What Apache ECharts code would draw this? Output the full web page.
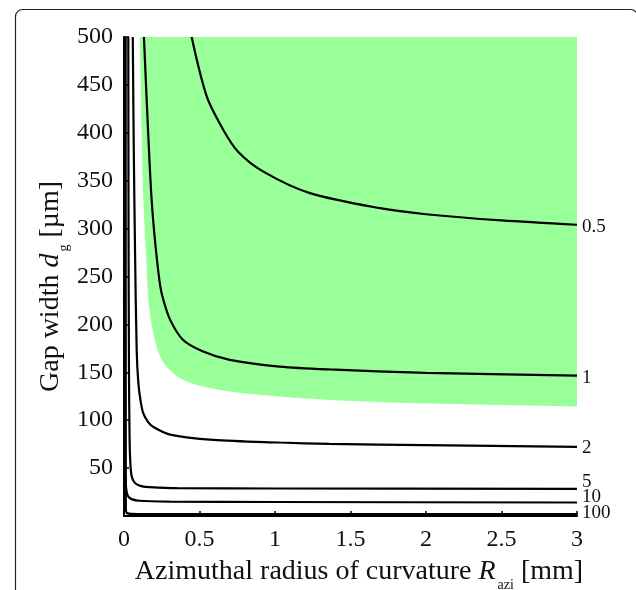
<!DOCTYPE html>
<html>
<head>
<meta charset="utf-8">
<script src="https://cdn.jsdelivr.net/npm/echarts@6/dist/echarts.min.js"></script>
<style>
html,body{margin:0;padding:0;background:#fff;}
#c{width:636px;height:590px;}
</style>
</head>
<body>
<div id="c"></div>
<script>
// x ticks / y ticks
const xTicks = [0, 0.5, 1, 1.5, 2, 2.5, 3];
const yTicks = [50, 100, 150, 200, 250, 300, 350, 400, 450, 500];

// Lower boundary of the green region [R_azi mm, d_g um]
const regionR = [0.105, 0.117, 0.128, 0.15, 0.161, 0.194, 0.25, 0.35, 0.48, 0.7, 1.03, 1.36, 2, 3];
const regionD = [500, 400, 330, 260, 226, 191, 163, 146, 137, 130, 124.7, 121.2, 117.5, 114.3];

// Contour curves
const curve05R = [0.448, 0.548, 0.658, 0.757, 0.923, 1.232, 1.695, 2, 2.5, 3];
const curve05D = [500, 438, 403, 380, 359.5, 337, 321.3, 315, 308.5, 304];

const curve1R = [0.132, 0.16, 0.183, 0.21, 0.24, 0.26, 0.305, 0.39, 0.52, 0.7, 1.03, 1.36, 2, 3];
const curve1D = [500, 400, 330, 280, 240, 226, 205, 184, 172, 163, 156, 153, 149.5, 146.6];

const curve2R = [0.058, 0.065, 0.073, 0.084, 0.095, 0.11, 0.128, 0.16, 0.194, 0.305, 0.59, 1.03, 1.36, 2, 3];
const curve2D = [500, 380, 278, 173, 139, 120, 107, 98, 93, 85, 79.5, 76.7, 75.3, 74, 72.2];

const curve5R = [0.0285, 0.03, 0.033, 0.037, 0.042, 0.05, 0.065, 0.085, 0.12, 0.17, 0.35, 1, 3];
const curve5D = [500, 300, 150, 80, 55, 42, 36, 33, 31, 30.2, 29.1, 28.7, 28.4];

const curve10R = [0.011, 0.012, 0.016, 0.022, 0.03, 0.05, 0.1, 0.3, 1, 3];
const curve10D = [40.5, 33, 27, 22.5, 20, 17.6, 15.9, 15.1, 14.6, 14.1];

const curve100R = [0.011, 0.012, 0.02, 0.1, 3];
const curve100D = [500, 10, 3, 2, 2];

const curveNames = ['0.5', '1', '2', '5', '10', '100'];
const curveR = [curve05R, curve1R, curve2R, curve5R, curve10R, curve100R];
const curveD = [curve05D, curve1D, curve2D, curve5D, curve10D, curve100D];
const labelShift = [2, 2, 1, -7, -5, -1];

const FONT = '"Liberation Serif", "DejaVu Serif", serif';

function zip(a, b) { return a.map((v, i) => [v, b[i]]); }

const series = [{
  type: 'line',
  name: 'region',
  data: zip(regionR, regionD),
  symbol: 'none',
  smooth: 0.3,
  lineStyle: { width: 0, color: '#99ff99' },
  areaStyle: { color: '#99ff99', opacity: 1, origin: 'end' },
  z: 1,
  silent: true
}];
curveNames.forEach((n, i) => {
  series.push({
    type: 'line',
    name: n,
    data: zip(curveR[i], curveD[i]),
    symbol: 'none',
    smooth: 0.3,
    lineStyle: { color: '#000', width: 2.2 },
    itemStyle: { color: '#000' },
    z: 3,
    endLabel: {
      show: true,
      formatter: '{a}',
      distance: 5,
      offset: [0, labelShift[i]],
      color: '#111',
      fontFamily: FONT,
      fontSize: 19
    }
  });
});

const titleRich = {
  m: { fontFamily: FONT, fontSize: 28, color: '#111', lineHeight: 28, verticalAlign: 'top' },
  i: { fontFamily: FONT, fontSize: 28, color: '#111', fontStyle: 'italic', lineHeight: 28, verticalAlign: 'top', padding: [0, 2, 0, 0] },
  s: { fontFamily: FONT, fontSize: 14, color: '#111', lineHeight: 34, verticalAlign: 'bottom' }
};

const chart = echarts.init(document.getElementById('c'), null, { renderer: 'canvas' });
chart.setOption({
  animation: false,
  backgroundColor: '#fff',
  graphic: [{
    type: 'rect',
    shape: { x: 15.5, y: 9.5, width: 622, height: 700, r: 7 },
    style: { fill: 'none', stroke: '#222', lineWidth: 1.2 },
    z: 0
  }],
  grid: { left: 124, right: 59, top: 37, bottom: 74, containLabel: false, outerBoundsMode: 'none' },
  xAxis: {
    type: 'value',
    min: xTicks[0],
    max: xTicks[xTicks.length - 1],
    interval: 0.5,
    axisLine: { show: true, lineStyle: { color: '#000', width: 2 } },
    axisTick: { show: true, inside: true, length: 5, lineStyle: { color: '#000', width: 1.5 } },
    axisLabel: { color: '#111', fontFamily: FONT, fontSize: 24, margin: 12 },
    splitLine: { show: false },
    name: '{m|Azimuthal radius of curvature }{i|R}{s|azi}{m| [mm]}',
    nameLocation: 'middle',
    nameGap: 42,
    nameMoveOverlap: false,
    nameTextStyle: { padding: [0, 0, 0, 17], rich: titleRich }
  },
  yAxis: {
    type: 'value',
    min: 0,
    max: yTicks[yTicks.length - 1],
    interval: 50,
    axisLine: { show: true, lineStyle: { color: '#000', width: 2 } },
    axisTick: { show: true, inside: true, length: 5, lineStyle: { color: '#000', width: 1.5 } },
    axisLabel: {
      color: '#111', fontFamily: FONT, fontSize: 24, margin: 11,
      formatter: v => (yTicks.indexOf(v) >= 0 ? String(v) : '')
    },
    splitLine: { show: false },
    name: '{m|Gap width }{i|d}{s|g}{m| [\u00b5m]}',
    nameLocation: 'middle',
    nameGap: 53,
    nameMoveOverlap: false,
    nameTextStyle: { padding: [0, 20, 0, 0], rich: titleRich }
  },
  series: series
});
</script>
</body>
</html>
